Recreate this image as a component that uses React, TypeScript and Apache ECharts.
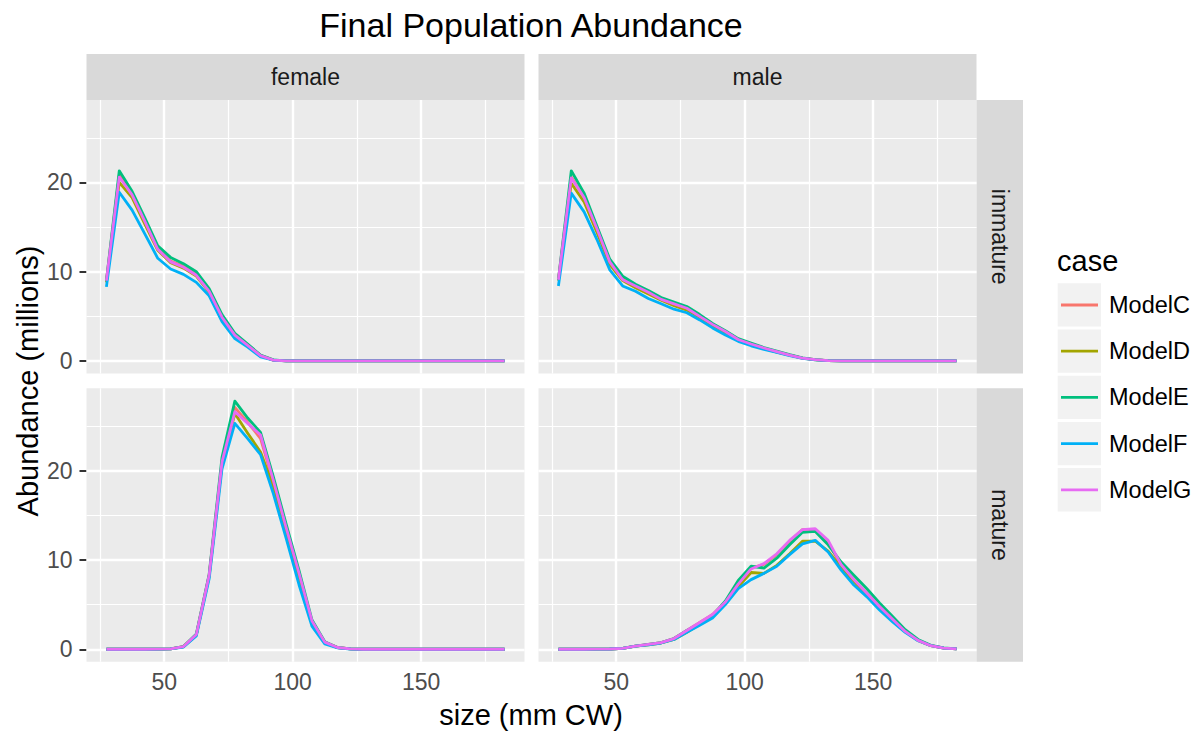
import React, { useEffect, useRef } from "react";
import * as echarts from "echarts";

// ---- categories / labels ----
const models = ["ModelC", "ModelD", "ModelE", "ModelF", "ModelG"];
const colors = ["#F8766D", "#A3A500", "#00BF7D", "#00B0F6", "#E76BF3"];
const sexes = ["female", "male"];
const stages = ["immature", "mature"];
const xTicks = [50, 100, 150];
const xMinor = [25, 75, 125, 175];
const yTicks = [0, 10, 20];
const yMinor = [5, 15, 25];

// size classes (mm CW)
const sizes = [27.5, 32.5, 37.5, 42.5, 47.5, 52.5, 57.5, 62.5, 67.5, 72.5, 77.5, 82.5, 87.5, 92.5, 97.5, 102.5,
  107.5, 112.5, 117.5, 122.5, 127.5, 132.5, 137.5, 142.5, 147.5, 152.5, 157.5, 162.5, 167.5, 172.5, 177.5, 182.5];

// ---- female immature ----
const fiC = [9.0, 20.8, 18.7, 15.6, 12.6, 11.2, 10.6, 9.7, 7.8, 4.9, 2.9, 1.8, 0.6, 0.1, 0.02, 0, 0, 0, 0, 0, 0, 0, 0, 0, 0, 0, 0, 0, 0, 0, 0, 0];
const fiD = [8.8, 20.0, 18.3, 15.3, 12.4, 11.0, 10.4, 9.5, 7.7, 4.8, 2.8, 1.75, 0.6, 0.1, 0.02, 0, 0, 0, 0, 0, 0, 0, 0, 0, 0, 0, 0, 0, 0, 0, 0, 0];
const fiE = [9.0, 21.3, 19.0, 16.0, 12.9, 11.6, 10.9, 10.0, 8.1, 5.2, 3.1, 1.9, 0.65, 0.12, 0.02, 0, 0, 0, 0, 0, 0, 0, 0, 0, 0, 0, 0, 0, 0, 0, 0, 0];
const fiF = [8.3, 18.9, 16.9, 14.2, 11.5, 10.3, 9.7, 8.8, 7.3, 4.4, 2.5, 1.55, 0.45, 0.08, 0.01, 0, 0, 0, 0, 0, 0, 0, 0, 0, 0, 0, 0, 0, 0, 0, 0, 0];
const fiG = [9.0, 20.6, 18.6, 15.6, 12.5, 11.1, 10.5, 9.6, 7.8, 4.9, 2.9, 1.75, 0.6, 0.1, 0.02, 0, 0, 0, 0, 0, 0, 0, 0, 0, 0, 0, 0, 0, 0, 0, 0, 0];

// ---- male immature ----
const miC = [9.1, 20.6, 18.3, 14.7, 11.1, 9.2, 8.4, 7.7, 6.9, 6.4, 5.9, 5.0, 4.1, 3.3, 2.4, 1.9, 1.45, 1.05, 0.65, 0.33, 0.14, 0.05, 0.01, 0, 0, 0, 0, 0, 0, 0, 0, 0];
const miD = [9.0, 19.9, 17.8, 14.4, 10.8, 9.0, 8.2, 7.5, 6.8, 6.2, 5.7, 4.9, 4.0, 3.2, 2.35, 1.85, 1.4, 1.0, 0.65, 0.32, 0.13, 0.05, 0.01, 0, 0, 0, 0, 0, 0, 0, 0, 0];
const miE = [9.1, 21.3, 18.8, 15.1, 11.4, 9.5, 8.6, 7.9, 7.1, 6.6, 6.1, 5.2, 4.2, 3.4, 2.5, 2.0, 1.5, 1.1, 0.7, 0.35, 0.15, 0.05, 0.01, 0, 0, 0, 0, 0, 0, 0, 0, 0];
const miF = [8.4, 18.8, 16.7, 13.6, 10.2, 8.4, 7.8, 7.0, 6.4, 5.8, 5.4, 4.6, 3.7, 2.9, 2.2, 1.7, 1.3, 0.95, 0.6, 0.3, 0.12, 0.04, 0.01, 0, 0, 0, 0, 0, 0, 0, 0, 0];
const miG = [9.1, 20.5, 18.3, 14.8, 11.1, 9.1, 8.4, 7.7, 6.9, 6.4, 5.9, 5.0, 4.1, 3.3, 2.4, 1.9, 1.45, 1.05, 0.65, 0.33, 0.14, 0.05, 0.01, 0, 0, 0, 0, 0, 0, 0, 0, 0];

// ---- female mature ----
const fmC = [0, 0, 0, 0, 0.01, 0.05, 0.3, 1.65, 8.3, 21.0, 27.1, 25.4, 23.6, 18.7, 13.4, 8.3, 3.1, 0.8, 0.2, 0.05, 0, 0, 0, 0, 0, 0, 0, 0, 0, 0, 0, 0];
const fmD = [0, 0, 0, 0, 0.01, 0.05, 0.3, 1.6, 8.2, 20.8, 26.4, 24.2, 22.1, 18.2, 13.0, 7.9, 2.9, 0.75, 0.18, 0.04, 0, 0, 0, 0, 0, 0, 0, 0, 0, 0, 0, 0];
const fmE = [0, 0, 0, 0, 0.01, 0.05, 0.3, 1.7, 8.4, 21.5, 27.8, 25.9, 24.3, 19.3, 14.0, 8.8, 3.3, 0.85, 0.2, 0.05, 0, 0, 0, 0, 0, 0, 0, 0, 0, 0, 0, 0];
const fmF = [0, 0, 0, 0, 0.01, 0.04, 0.25, 1.5, 7.9, 20.2, 25.3, 23.6, 21.8, 17.4, 12.4, 7.2, 2.6, 0.6, 0.15, 0.03, 0, 0, 0, 0, 0, 0, 0, 0, 0, 0, 0, 0];
const fmG = [0, 0, 0, 0, 0.01, 0.05, 0.3, 1.65, 8.3, 21.0, 26.6, 25.3, 24.0, 18.9, 13.6, 8.5, 3.2, 0.8, 0.2, 0.05, 0, 0, 0, 0, 0, 0, 0, 0, 0, 0, 0, 0];

// ---- male mature ----
const mmC = [0, 0, 0, 0.01, 0.03, 0.1, 0.35, 0.55, 0.75, 1.2, 2.1, 3.0, 3.9, 5.3, 7.4, 9.1, 9.5, 10.6, 12.1, 13.4, 13.4, 12.0, 9.4, 7.8, 6.3, 4.8, 3.4, 2.0, 1.0, 0.4, 0.12, 0.04];
const mmD = [0, 0, 0, 0.01, 0.03, 0.1, 0.35, 0.5, 0.7, 1.1, 1.9, 2.8, 3.7, 5.1, 7.0, 8.6, 8.5, 9.4, 10.7, 12.1, 12.1, 11.0, 9.2, 7.6, 6.2, 4.7, 3.3, 2.0, 1.0, 0.4, 0.12, 0.04];
const mmE = [0, 0, 0, 0.01, 0.03, 0.1, 0.35, 0.55, 0.75, 1.2, 2.1, 2.9, 3.8, 5.4, 7.7, 9.3, 9.1, 10.2, 11.7, 13.1, 13.2, 11.7, 9.8, 8.3, 6.8, 5.2, 3.7, 2.2, 1.1, 0.45, 0.15, 0.05];
const mmF = [0, 0, 0, 0.01, 0.03, 0.1, 0.35, 0.5, 0.7, 1.1, 1.9, 2.7, 3.5, 5.0, 6.8, 7.8, 8.5, 9.3, 10.6, 11.8, 12.2, 10.9, 8.9, 7.2, 5.9, 4.4, 3.1, 1.9, 0.95, 0.4, 0.12, 0.04];
const mmG = [0, 0, 0, 0.01, 0.03, 0.1, 0.35, 0.55, 0.75, 1.2, 2.1, 3.0, 3.9, 5.3, 7.3, 9.0, 9.6, 10.7, 12.2, 13.4, 13.5, 12.2, 9.5, 7.8, 6.3, 4.8, 3.4, 2.0, 1.0, 0.4, 0.12, 0.04];

const FONT = "'Liberation Sans', Arial, Helvetica, sans-serif";

export default function App() {
  const ref = useRef<HTMLDivElement>(null);

  useEffect(() => {
    if (!ref.current) return;
    const chart = echarts.init(ref.current, null, { renderer: "svg", width: 1198, height: 734 });

    const PL = [86.5, 538.5];
    const PT = [100, 388.3];
    const PW = 438;
    const PH = 273.4;
    const XMIN = 19.75, XMAX = 190.25;
    const YMIN = -1.392, YMAX = 29.23;

    // panel index = row*2 + col ; row: stage, col: sex
    const panelData = [
      [fiC, fiD, fiE, fiF, fiG],
      [miC, miD, miE, miF, miG],
      [fmC, fmD, fmE, fmF, fmG],
      [mmC, mmD, mmE, mmF, mmG],
    ];

    const grids: any[] = [];
    const xAxes: any[] = [];
    const yAxes: any[] = [];
    const series: any[] = [];

    for (let p = 0; p < 4; p++) {
      const row = Math.floor(p / 2);
      const col = p % 2;
      grids.push({
        left: PL[col], top: PT[row], width: PW, height: PH,
        show: true, backgroundColor: "#EBEBEB", borderWidth: 0, containLabel: false,
      });
      const bottom = row === 1;
      const leftCol = col === 0;
      xAxes.push({
        type: "value", gridIndex: p, min: XMIN, max: XMAX,
        axisLine: { show: false },
        splitLine: { show: false },
        axisTick: { show: bottom, customValues: xTicks, length: 7, lineStyle: { color: "#333333", width: 2 } },
        axisLabel: { show: bottom, customValues: xTicks, color: "#4D4D4D", fontSize: 23, fontFamily: FONT, margin: 9 },
      });
      yAxes.push({
        type: "value", gridIndex: p, min: YMIN, max: YMAX,
        axisLine: { show: false },
        splitLine: { show: false },
        axisTick: { show: leftCol, customValues: yTicks, length: 7, lineStyle: { color: "#333333", width: 2 } },
        axisLabel: { show: leftCol, customValues: yTicks, color: "#4D4D4D", fontSize: 23, fontFamily: FONT, margin: 14 },
      });

      // grid lines via markLine
      const ml: any[] = [];
      yMinor.forEach((v) => ml.push({ yAxis: v, lineStyle: { width: 1.2 } }));
      xMinor.forEach((v) => ml.push({ xAxis: v, lineStyle: { width: 1.2 } }));
      yTicks.forEach((v) => ml.push({ yAxis: v, lineStyle: { width: 2.4 } }));
      xTicks.forEach((v) => ml.push({ xAxis: v, lineStyle: { width: 2.4 } }));
      series.push({
        type: "line", name: "grid" + p, xAxisIndex: p, yAxisIndex: p,
        data: [[sizes[0], 0]], showSymbol: false, symbol: "none",
        lineStyle: { width: 0, opacity: 0 }, silent: true, z: 1,
        markLine: {
          silent: true, symbol: ["none", "none"], z: 1,
          label: { show: false },
          lineStyle: { color: "#FFFFFF", type: "solid" },
          emphasis: { disabled: true },
          animation: false,
          data: ml,
        },
      });

      panelData[p].forEach((arr, m) => {
        series.push({
          type: "line", name: models[m], xAxisIndex: p, yAxisIndex: p,
          data: sizes.map((s, k) => [s, arr[k]]),
          showSymbol: false, symbol: "none", silent: true, z: 3 + m,
          lineStyle: { width: 2.8, color: colors[m], join: "round" },
          itemStyle: { color: colors[m] },
          emphasis: { disabled: true },
        });
      });
    }

    // graphic: strips, titles, legend
    const g: any[] = [];
    sexes.forEach((s, c) => {
      g.push({ type: "rect", shape: { x: PL[c], y: 54, width: PW, height: 46 }, style: { fill: "#D9D9D9" }, silent: true });
      g.push({
        type: "text", x: PL[c] + PW / 2, y: 77,
        style: { text: s, fill: "#1A1A1A", font: `23px ${FONT}`, align: "center", verticalAlign: "middle" }, silent: true,
      });
    });
    stages.forEach((s, r) => {
      g.push({ type: "rect", shape: { x: PL[1] + PW, y: PT[r], width: 46.5, height: PH }, style: { fill: "#D9D9D9" }, silent: true });
      g.push({
        type: "text", x: PL[1] + PW + 23.25, y: PT[r] + PH / 2, rotation: -Math.PI / 2,
        style: { text: s, fill: "#1A1A1A", font: `23px ${FONT}`, align: "center", verticalAlign: "middle" }, silent: true,
      });
    });
    g.push({
      type: "text", x: 531, y: 25,
      style: { text: "Final Population Abundance", fill: "#000000", font: `34px ${FONT}`, align: "center", verticalAlign: "middle" },
    });
    g.push({
      type: "text", x: 531, y: 715,
      style: { text: "size (mm CW)", fill: "#000000", font: `29px ${FONT}`, align: "center", verticalAlign: "middle" },
    });
    g.push({
      type: "text", x: 28, y: 381, rotation: Math.PI / 2,
      style: { text: "Abundance (millions)", fill: "#000000", font: `29px ${FONT}`, align: "center", verticalAlign: "middle" },
    });
    // legend
    g.push({
      type: "text", x: 1057, y: 261,
      style: { text: "case", fill: "#000000", font: `29px ${FONT}`, align: "left", verticalAlign: "middle" },
    });
    models.forEach((name, i) => {
      const top = 283.3 + i * 46.2;
      g.push({ type: "rect", shape: { x: 1057.7, y: top, width: 43.3, height: 43.3 }, style: { fill: "#F2F2F2" }, silent: true });
      g.push({
        type: "line", shape: { x1: 1061, y1: top + 21.7, x2: 1098, y2: top + 21.7 },
        style: { stroke: colors[i], lineWidth: 2.8 }, silent: true,
      });
      g.push({
        type: "text", x: 1109, y: top + 21.7,
        style: { text: name, fill: "#000000", font: `23.5px ${FONT}`, align: "left", verticalAlign: "middle" }, silent: true,
      });
    });

    chart.setOption({
      animation: false,
      backgroundColor: "#FFFFFF",
      grid: grids,
      xAxis: xAxes,
      yAxis: yAxes,
      series,
      graphic: g,
    });

    return () => chart.dispose();
  }, []);

  return (
    <div
      ref={ref}
      style={{ position: "absolute", left: 0, top: 0, width: 1198, height: 734, background: "#FFFFFF" }}
    />
  );
}
